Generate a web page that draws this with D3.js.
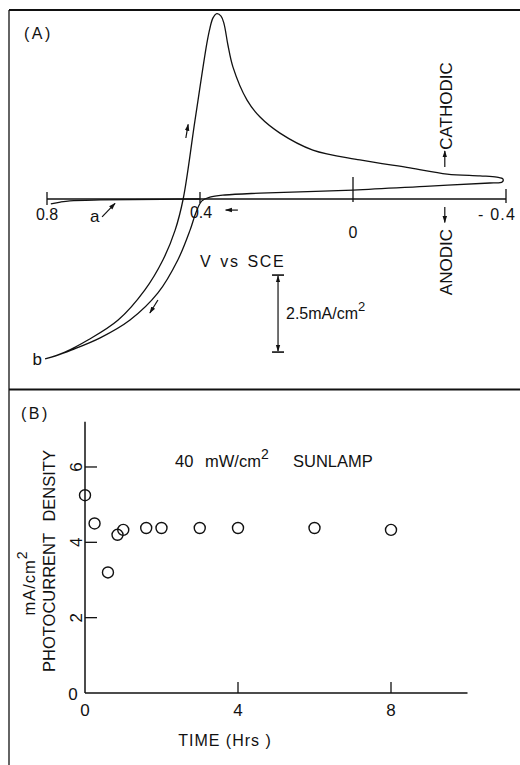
<!DOCTYPE html>
<html>
<head>
<meta charset="utf-8">
<script src="https://cdn.jsdelivr.net/npm/d3@7"></script>
<style>
  html, body { margin: 0; padding: 0; background: #fff; }
  svg text { font-family: "Liberation Sans", Arial, Helvetica, sans-serif; fill: #111; }
</style>
</head>
<body>
<svg id="fig" width="520" height="765"></svg>
<script>
// ---- Panel A: photocurrent–potential sweep (V vs SCE, mA/cm², cathodic up) ----
const sweepPotential = [0.805, 0.753, 0.693, 0.614, 0.544, 0.497, 0.465, 0.444, 0.413, 0.382,
  0.374, 0.366, 0.356, 0.345, 0.337, 0.327, 0.314, 0.277, 0.243, 0.191, 0.105, -0.018,
  -0.149, -0.246, -0.332, -0.376, -0.392, -0.390, -0.358, -0.201, 0, 0.243,
  0.335, 0.374, 0.395, 0.410, 0.426, 0.458, 0.510, 0.583, 0.661, 0.735, 0.779, 0.805];
const sweepCurrent = [-5.19, -4.97, -4.58, -3.93, -2.95, -1.98, -1.01, 0, 2.56, 5.06,
  5.55, 5.88, 6.02, 5.94, 5.68, 5.00, 4.29, 3.21, 2.66, 2.14, 1.59, 1.27,
  1.01, 0.81, 0.75, 0.71, 0.65, 0.55, 0.52, 0.42, 0.29, 0.19,
  0.13, 0.06, -0.06, -0.42, -1.01, -1.98, -3.05, -3.93, -4.51, -4.90, -5.10, -5.19];
// dark current (curve a)
const darkPotential = [0.79, 0.765, 0.74, 0.66, 0.5, 0.4];
const darkCurrent = [-0.16, -0.10, -0.06, -0.03, -0.01, 0];
const potentialTicks = [0.8, 0.4, 0, -0.4];
const potentialTickLabels = ["0.8", "0.4", "0", "- 0.4"];
const scaleBarTop = -2.47;
const scaleBarSpan = 2.5;

// ---- Panel B: photocurrent density vs time ----
const timeHrs = [0, 0.25, 0.6, 0.85, 1, 1.6, 2, 3, 4, 6, 8];
const photocurrent = [5.25, 4.5, 3.2, 4.2, 4.33, 4.38, 4.38, 4.38, 4.38, 4.38, 4.33];
const timeTicks = [0, 4, 8];
const densityTicks = [0, 2, 4, 6];

const svg = d3.select("#fig");
const ink = "#111";

// arrowhead marker
const defs = svg.append("defs");
defs.append("marker")
  .attr("id", "ah").attr("viewBox", "0 0 10 10")
  .attr("refX", 9).attr("refY", 5)
  .attr("markerWidth", 7).attr("markerHeight", 7)
  .attr("markerUnits", "userSpaceOnUse")
  .attr("orient", "auto-start-reverse")
  .append("path").attr("d", "M0,1.8 L10,5 L0,8.2 Z").attr("fill", ink);

// frame
svg.append("line").attr("x1", 9).attr("x2", 9).attr("y1", 10).attr("y2", 765)
  .attr("stroke", ink).attr("stroke-width", 1.3);
svg.append("line").attr("x1", 9).attr("x2", 520).attr("y1", 10).attr("y2", 10)
  .attr("stroke", ink).attr("stroke-width", 2);
svg.append("line").attr("x1", 9).attr("x2", 520).attr("y1", 389.5).attr("y2", 389.5)
  .attr("stroke", ink).attr("stroke-width", 2);

// ================= Panel A =================
const xV = d3.scaleLinear().domain([0.8, -0.4]).range([47, 506]);
const yI = d3.scaleLinear().domain([0, 6]).range([199, 199 - 6 * 30.8]);
const gA = svg.append("g");

// potential axis
gA.append("line").attr("x1", xV(0.8)).attr("x2", xV(-0.4)).attr("y1", yI(0)).attr("y2", yI(0))
  .attr("stroke", ink).attr("stroke-width", 1.4);
const tickExtent = [[-7, 6], [-7, 4], [-22, 3], [-10, 4]];
potentialTicks.forEach((v, k) => {
  gA.append("line").attr("x1", xV(v)).attr("x2", xV(v))
    .attr("y1", yI(0) + tickExtent[k][0]).attr("y2", yI(0) + tickExtent[k][1])
    .attr("stroke", ink).attr("stroke-width", 1.3);
});
const tickLabelPos = [[0, 21, "middle"], [1, 19, "middle"], [0, 39, "middle"], [-28, 21, "start"]];
potentialTicks.forEach((v, k) => {
  gA.append("text").attr("x", xV(v) + tickLabelPos[k][0]).attr("y", yI(0) + tickLabelPos[k][1])
    .attr("text-anchor", tickLabelPos[k][2]).attr("font-size", 16)
    .attr("letter-spacing", k === 3 ? 1.2 : 0)
    .text(potentialTickLabels[k]);
});

// curves
const line = d3.line().x(d => xV(d[0])).y(d => yI(d[1])).curve(d3.curveCatmullRom.alpha(0.5));
gA.append("path").datum(sweepPotential.map((v, k) => [v, sweepCurrent[k]]))
  .attr("d", line).attr("fill", "none").attr("stroke", ink).attr("stroke-width", 1.3);
gA.append("path").datum(darkPotential.map((v, k) => [v, darkCurrent[k]]))
  .attr("d", line).attr("fill", "none").attr("stroke", ink).attr("stroke-width", 1.3);

// direction arrows along the sweep
const sweepArrows = [
  [0.437, 1.98, 0.431, 2.42],
  [0.510, -3.28, 0.531, -3.70],
  [0.301, -0.36, 0.333, -0.36],
  [0.656, -0.58, 0.622, -0.14]
];
sweepArrows.forEach(a => {
  gA.append("line").attr("x1", xV(a[0])).attr("y1", yI(a[1])).attr("x2", xV(a[2])).attr("y2", yI(a[3]))
    .attr("stroke", ink).attr("stroke-width", 1.2).attr("marker-end", "url(#ah)");
});

// labels a, b
gA.append("text").attr("x", xV(0.675)).attr("y", yI(-0.75)).attr("font-size", 17)
  .attr("text-anchor", "middle").text("a");
gA.append("text").attr("x", xV(0.805) - 3).attr("y", yI(-5.19) + 6).attr("font-size", 17)
  .attr("text-anchor", "end").text("b");

// panel label
gA.append("text").attr("x", 24).attr("y", 39).attr("font-size", 16).attr("letter-spacing", 2.5).text("(A)");

// axis caption
gA.append("text").attr("x", xV(0.4)).attr("y", yI(-2.2)).attr("font-size", 16)
  .attr("letter-spacing", 1.6).attr("word-spacing", 2).text("V vs SCE");

// cathodic / anodic direction indicators
const dirX = xV(-0.24);
gA.append("line").attr("x1", dirX).attr("x2", dirX).attr("y1", yI(1.04)).attr("y2", yI(1.56))
  .attr("stroke", ink).attr("stroke-width", 1.2).attr("marker-end", "url(#ah)");
gA.append("text").attr("transform", `translate(${dirX + 7},${yI(3.02)}) rotate(-90)`)
  .attr("text-anchor", "middle").attr("font-size", 17).text("CATHODIC");
gA.append("line").attr("x1", dirX).attr("x2", dirX).attr("y1", yI(-0.26)).attr("y2", yI(-0.76))
  .attr("stroke", ink).attr("stroke-width", 1.2).attr("marker-end", "url(#ah)");
gA.append("text").attr("transform", `translate(${dirX + 7},${yI(-2.05)}) rotate(-90)`)
  .attr("text-anchor", "middle").attr("font-size", 17).text("ANODIC");

// current scale bar
const sbX = xV(0.196);
const sbY1 = yI(scaleBarTop), sbY2 = yI(scaleBarTop - scaleBarSpan);
gA.append("line").attr("x1", sbX).attr("x2", sbX).attr("y1", sbY1 + 1).attr("y2", sbY2 - 1)
  .attr("stroke", ink).attr("stroke-width", 1.2)
  .attr("marker-start", "url(#ah)").attr("marker-end", "url(#ah)");
[sbY1, sbY2].forEach(y => {
  gA.append("line").attr("x1", sbX - 6).attr("x2", sbX + 6).attr("y1", y).attr("y2", y)
    .attr("stroke", ink).attr("stroke-width", 1.6);
});
const sbLabel = gA.append("text").attr("x", sbX + 8).attr("y", (sbY1 + sbY2) / 2 + 5).attr("font-size", 16);
sbLabel.append("tspan").text(`${scaleBarSpan}mA/cm`);
sbLabel.append("tspan").attr("dy", -8).attr("font-size", 13).text("2");

// ================= Panel B =================
const xT = d3.scaleLinear().domain([0, 10]).range([85, 467.5]);
const yD = d3.scaleLinear().domain([0, 7.2]).range([693, 693 - 7.2 * 37.67]);
const gB = svg.append("g");

gB.append("line").attr("x1", xT(0)).attr("x2", xT(10)).attr("y1", yD(0)).attr("y2", yD(0))
  .attr("stroke", ink).attr("stroke-width", 1.5);
gB.append("line").attr("x1", xT(0)).attr("x2", xT(0)).attr("y1", yD(0)).attr("y2", yD(7.2))
  .attr("stroke", ink).attr("stroke-width", 1.5);

timeTicks.filter(t => t > 0).forEach(t => {
  gB.append("line").attr("x1", xT(t)).attr("x2", xT(t)).attr("y1", yD(0)).attr("y2", yD(0) - 11)
    .attr("stroke", ink).attr("stroke-width", 1.3);
});
timeTicks.forEach(t => {
  gB.append("text").attr("x", xT(t)).attr("y", yD(0) + 23).attr("text-anchor", "middle")
    .attr("font-size", 17).text(t);
});
densityTicks.filter(d => d > 0).forEach(d => {
  gB.append("line").attr("x1", xT(0)).attr("x2", xT(0) + 12).attr("y1", yD(d)).attr("y2", yD(d))
    .attr("stroke", ink).attr("stroke-width", 1.3);
  gB.append("text").attr("transform", `translate(${xT(0) - 3},${yD(d)}) rotate(-90)`)
    .attr("text-anchor", "middle").attr("font-size", 17).text(d);
});
gB.append("text").attr("x", xT(0) - 12).attr("y", yD(0) + 7).attr("text-anchor", "middle")
  .attr("font-size", 17).text(densityTicks[0]);

// data points
gB.selectAll("circle.pt").data(timeHrs.map((t, k) => [t, photocurrent[k]])).join("circle")
  .attr("class", "pt")
  .attr("cx", d => xT(d[0])).attr("cy", d => yD(d[1])).attr("r", 5.5)
  .attr("fill", "none").attr("stroke", ink).attr("stroke-width", 1.4);

// labels
gB.append("text").attr("x", 21).attr("y", 419).attr("font-size", 16).attr("letter-spacing", 2.5).text("(B)");
const lamp = gB.append("text").attr("y", 467).attr("font-size", 16.5);
lamp.append("tspan").attr("x", 175).text("40");
lamp.append("tspan").attr("x", 205).text("mW/cm");
lamp.append("tspan").attr("dy", -8).attr("font-size", 14).text("2");
lamp.append("tspan").attr("x", 293).attr("dy", 8).text("SUNLAMP");

gB.append("text").attr("x", 225).attr("y", 746).attr("text-anchor", "middle")
  .attr("font-size", 16).attr("letter-spacing", 1).text("TIME (Hrs )");

gB.append("text").attr("transform", "translate(55,561) rotate(-90)").attr("text-anchor", "middle")
  .attr("font-size", 16.5).attr("word-spacing", 7).text("PHOTOCURRENT DENSITY");
const unit = gB.append("text").attr("transform", "translate(35,583) rotate(-90)")
  .attr("text-anchor", "middle").attr("font-size", 16.5).attr("letter-spacing", 1);
unit.append("tspan").text("mA/cm");
unit.append("tspan").attr("dy", -8).attr("font-size", 14).text("2");
</script>
</body>
</html>
